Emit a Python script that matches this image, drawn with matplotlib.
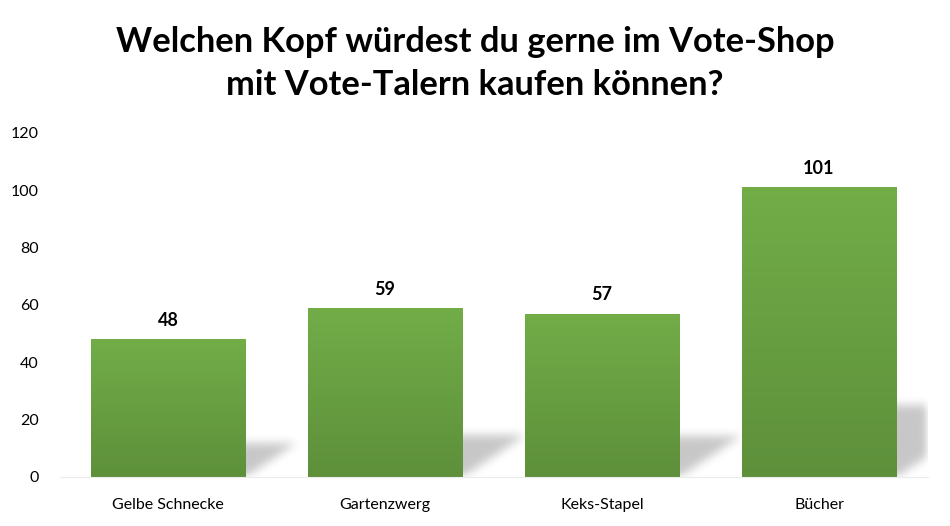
import numpy as np
import matplotlib.pyplot as plt
from matplotlib.colors import LinearSegmentedColormap

# data
categories = ['Gelbe Schnecke', 'Gartenzwerg', 'Keks-Stapel', 'Bücher']
votes = [48, 59, 57, 101]
title_lines = ['Welchen Kopf würdest du gerne im Vote-Shop', 'mit Vote-Talern kaufen können?']

plt.rcParams['font.family'] = ['Lato', 'DejaVu Sans']

W, H = 950, 526
fig = plt.figure(figsize=(W / 100, H / 100), dpi=100)
left, right, bottom, top = 59.5, 927.5, 477, 133
ax = fig.add_axes([left / W, (H - bottom) / H, (right - left) / W, (bottom - top) / H])

x = np.arange(len(categories))
ymax = 120
bar_w = 0.71
ax.set_xlim(-0.5, len(categories) - 0.5)
ax.set_ylim(0, ymax)

#shadow raster in axes pixels
aw, ah = int(right - left), int(bottom - top)
px_x = aw / len(categories)
px_y = ah / ymax
gx, gy = np.meshgrid(np.arange(aw) + 0.5, np.arange(ah) + 0.5)
gy = ah - gy  # from bottom
mask = np.zeros((ah, aw))
for xi, v in zip(x, votes):
    x0 = (xi - bar_w / 2 + 0.5) * px_x
    x1 = (xi + bar_w / 2 + 0.5) * px_x
    hp = 0.25 * v * px_y
    inside = (gy <= hp) & (gx >= x0 + 1.5 * gy) & (gx <= x1 + 1.5 * gy)
    mask[inside] = 1.0

def blur(a, r):
    k = np.ones(2 * r + 1) / (2 * r + 1)
    for _ in range(3):
        a = np.apply_along_axis(lambda m: np.convolve(m, k, mode='same'), 1, a)
        a = np.apply_along_axis(lambda m: np.convolve(m, k, mode='same'), 0, a)
    return a

soft = blur(mask, 4)
shadow = np.zeros((ah, aw, 4))
shadow[..., 3] = soft * 0.22
ax.imshow(shadow, extent=(-0.5, len(categories) - 0.5, 0, ymax), aspect='auto',
          origin='upper', zorder=1, interpolation='bilinear')

#bars with vertical gradient
green = LinearSegmentedColormap.from_list('g', ['#5e903b', '#72ad48'])
grad = np.linspace(0, 1, 256).reshape(-1, 1)
bars = ax.bar(x, votes, width=bar_w, color='none', edgecolor='none', zorder=2)
for b, v in zip(bars, votes):
    im = ax.imshow(grad, cmap=green, origin='lower', aspect='auto', zorder=2,
                   extent=(b.get_x(), b.get_x() + b.get_width(), 0, v))
    im.set_clip_path(b)
    ax.text(b.get_x() + b.get_width() / 2, v + 3.6, str(v), ha='center', va='bottom',
            fontsize=13, fontweight='bold', color='#000000')

ax.set_xticks(x)
ax.set_xticklabels(categories, fontsize=11.5)
ax.set_yticks(np.arange(0, ymax + 1, 20))
ax.tick_params(axis='y', labelsize=11.5, length=0, pad=15)
ax.tick_params(axis='x', length=0, pad=15)
for s in ['left', 'right', 'top']:
    ax.spines[s].set_visible(False)
ax.spines['bottom'].set_color('#ececec')

# title, two lines at fixed baselines
for line, base in zip(title_lines, [52, 95]):
    fig.text(0.5, 1 - base / H, line, ha='center', va='baseline', fontsize=24.8,
             fontweight='bold')

fig.savefig('out.png', dpi=100)
